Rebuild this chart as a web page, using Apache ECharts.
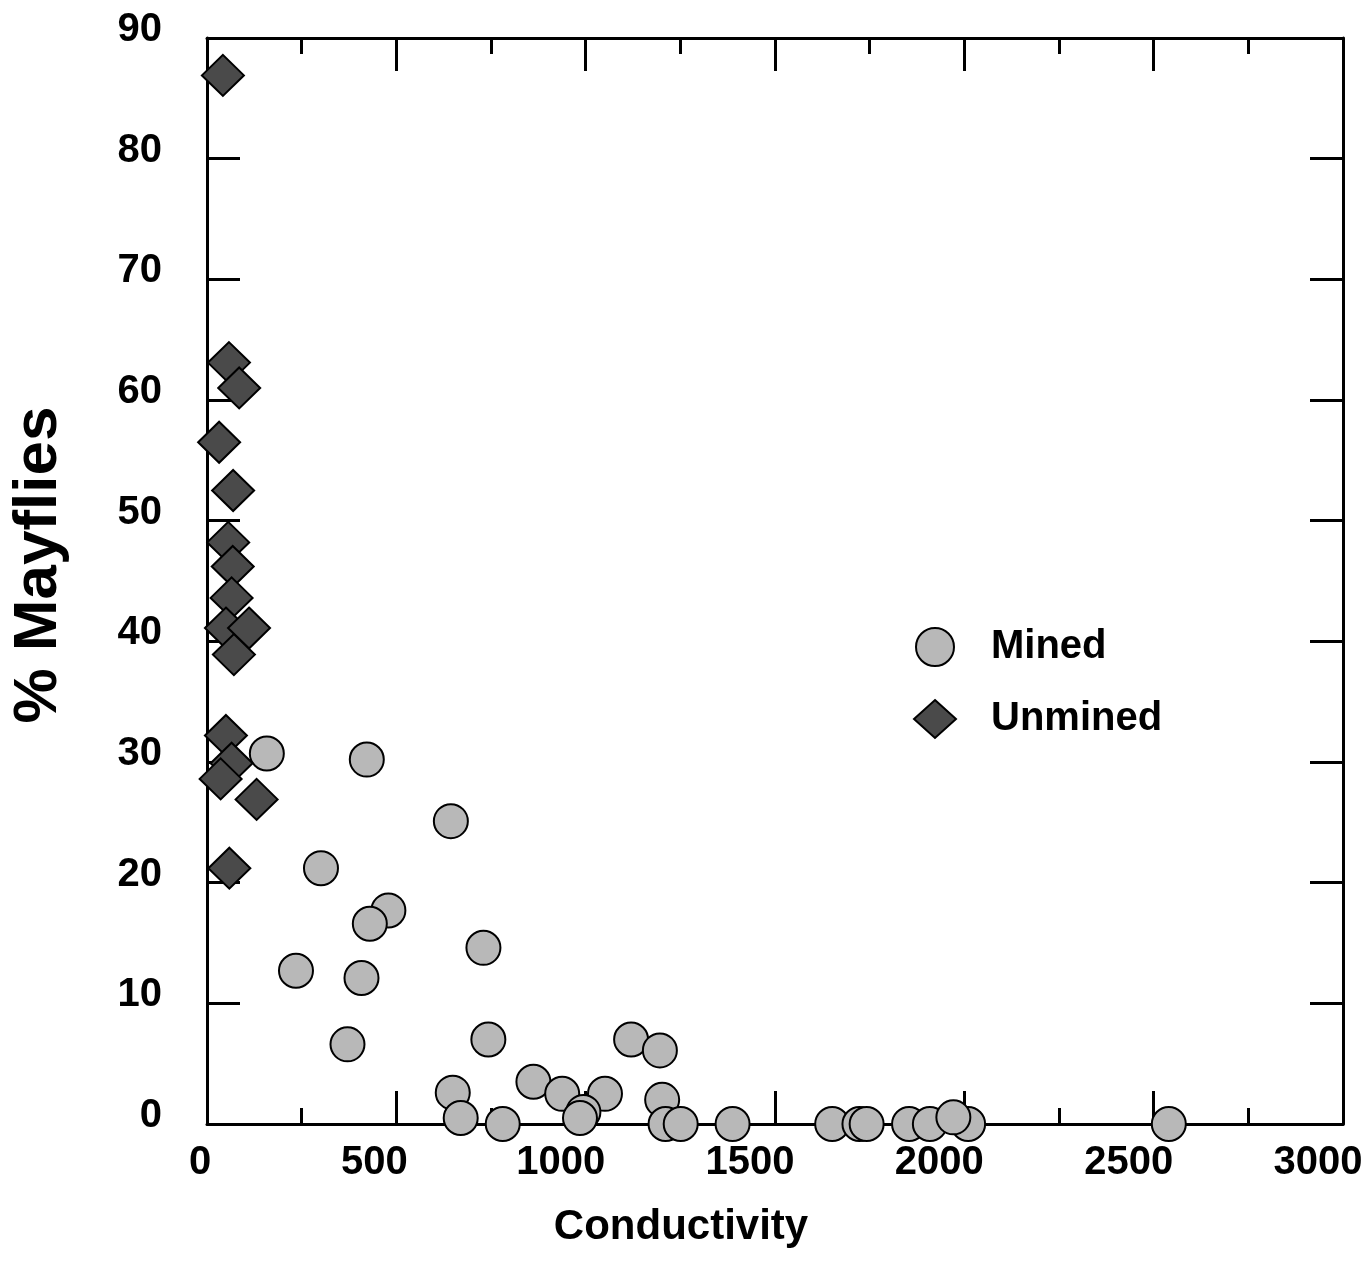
<!DOCTYPE html>
<html>
<head>
<meta charset="utf-8">
<title>% Mayflies vs Conductivity</title>
<script src="https://cdn.jsdelivr.net/npm/echarts@6/dist/echarts.min.js"></script>
<style>
  html, body { margin: 0; padding: 0; background: #fff; }
  #chart { width: 1370px; height: 1275px; }
</style>
</head>
<body>
<div id="chart"></div>
<script>
// Mined sites: [conductivity, % mayflies]
const minedConductivity = [158, 422, 644, 301, 479, 430, 730, 235, 408, 743, 371, 1120, 1196, 862, 649, 938, 1051, 1202, 994, 985, 670, 781, 1211, 1251, 1388, 1651, 1723, 1742, 1854, 1909, 2010, 1971, 2540];
const minedMayflies     = [30.7, 30.2, 25.1, 21.2, 17.7, 16.6, 14.6, 12.7, 12.1, 7.0, 6.6, 7.0, 6.1, 3.5, 2.6, 2.5, 2.5, 2.0, 1.0, 0.5, 0.5, 0, 0, 0, 0, 0, 0, 0, 0, 0, 0, 0.55, 0];

// Unmined sites: [conductivity, % mayflies]
const unminedConductivity = [42, 58, 85, 32, 69, 56, 68, 65, 50, 111, 71, 50, 65, 36, 131, 59];
const unminedMayflies     = [86.9, 63.1, 61.0, 56.5, 52.5, 48.2, 46.2, 43.6, 41.1, 41.1, 38.9, 32.2, 29.9, 28.6, 26.9, 21.2];

// Tick labels
const xTickLabels = ['0', '500', '1000', '1500', '2000', '2500', '3000'];
const yTickLabels = ['0', '10', '20', '30', '40', '50', '60', '70', '80', '90'];

const FONT = "'Liberation Sans', Arial, Helvetica, sans-serif";

const minedData = minedConductivity.map((c, i) => [c, minedMayflies[i]]);
const unminedData = unminedConductivity.map((c, i) => [c, unminedMayflies[i]]);

const axisLine = { show: true, onZero: false, lineStyle: { color: '#000', width: 3 } };
const majorTick = { show: true, inside: true, length: 33, lineStyle: { color: '#000', width: 3 } };
const minorTick = { show: true, splitNumber: 2, length: 16, lineStyle: { color: '#000', width: 3 } };

const tickFont = { fontFamily: FONT, fontWeight: 'bold', fontSize: 40, color: '#000' };

const chart = echarts.init(document.getElementById('chart'), null, { renderer: 'canvas' });

chart.setOption({
  backgroundColor: '#fff',
  animation: false,
  grid: { left: 207, right: 27, top: 38, bottom: 151, containLabel: false, outerBoundsMode: 'none' },
  legend: {
    orient: 'vertical',
    left: 908,
    top: 622,
    itemWidth: 42,
    itemHeight: 38,
    itemGap: 32,
    textStyle: { fontFamily: FONT, fontWeight: 'bold', fontSize: 40, color: '#000', padding: [0, 0, 0, 30] },
    data: ['Mined', 'Unmined']
  },
  xAxis: [
    {
      type: 'value',
      position: 'bottom',
      min: 0, max: 3000, interval: 500,
      name: 'Conductivity',
      nameLocation: 'middle',
      nameGap: 82,
      nameTextStyle: { fontFamily: FONT, fontWeight: 'bold', fontSize: 42, color: '#000', padding: [0, 188, 0, 0] },
      axisLine: axisLine,
      axisTick: majorTick,
      minorTick: minorTick,
      splitLine: { show: false },
      minorSplitLine: { show: false },
      axisLabel: {
        margin: 19,
        ...tickFont,
        formatter: v => {
          const t = xTickLabels[Math.round(v / 500)] || '';
          return '{w' + t.length + '|' + t + '}';
        },
        rich: {
          w1: { ...tickFont, padding: [0, 14, 0, 0] },
          w3: { ...tickFont, padding: [0, 44, 0, 0] },
          w4: { ...tickFont, padding: [0, 50, 0, 0] }
        }
      }
    },
    {
      type: 'value',
      position: 'top',
      min: 0, max: 3000, interval: 500,
      axisLine: axisLine,
      axisTick: majorTick,
      minorTick: minorTick,
      splitLine: { show: false },
      minorSplitLine: { show: false },
      axisLabel: { show: false }
    }
  ],
  yAxis: [
    {
      type: 'value',
      position: 'left',
      min: 0, max: 90, interval: 10,
      name: '% Mayflies',
      nameLocation: 'middle',
      nameGap: 137,
      nameRotate: 90,
      nameTextStyle: { fontFamily: FONT, fontWeight: 'bold', fontSize: 62, color: '#000', padding: [0, 0, 0, 32] },
      axisLine: axisLine,
      axisTick: majorTick,
      splitLine: { show: false },
      axisLabel: {
        margin: 45,
        ...tickFont,
        formatter: v => '{y|' + (yTickLabels[Math.round(v / 10)] || '') + '}',
        rich: {
          y: { ...tickFont, padding: [0, 0, 16, 0] }
        }
      }
    },
    {
      type: 'value',
      position: 'right',
      min: 0, max: 90, interval: 10,
      axisLine: axisLine,
      axisTick: majorTick,
      splitLine: { show: false },
      axisLabel: { show: false }
    }
  ],
  series: [
    {
      name: 'Mined',
      type: 'scatter',
      xAxisIndex: 0,
      yAxisIndex: 0,
      symbol: 'circle',
      symbolSize: 34,
      itemStyle: { color: '#b8b8b8', borderColor: '#000', borderWidth: 2, opacity: 1 },
      data: minedData
    },
    {
      name: 'Unmined',
      type: 'scatter',
      xAxisIndex: 0,
      yAxisIndex: 0,
      symbol: 'diamond',
      symbolSize: [42, 41],
      itemStyle: { color: '#4a4a4a', borderColor: '#000', borderWidth: 2, opacity: 1 },
      data: unminedData
    }
  ]
});
</script>
</body>
</html>
